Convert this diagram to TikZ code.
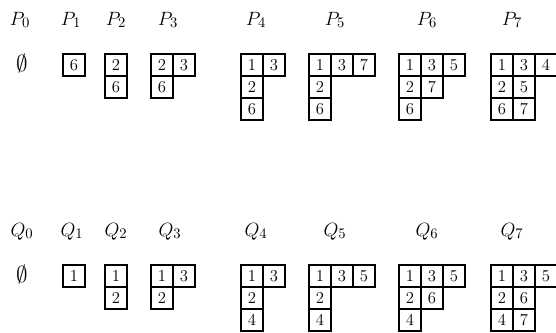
\documentclass[tikz,border=0pt]{standalone}
\begin{document}
\begin{tikzpicture}[x=0.75pt,y=-0.75pt,
  cell/.style={draw, line width=1.3pt, minimum size=16.5pt, inner sep=0pt, anchor=north west, font=\fontsize{12.5}{14}\selectfont},
  lbl/.style={anchor=base, inner sep=0pt, font=\fontsize{15}{18}\selectfont},
  empt/.style={inner sep=0pt, font=\fontsize{17}{19}\selectfont}]
\useasboundingbox (0,0) rectangle (556,332);
% ---------- labels ----------
\node[lbl] (lp0) at (20,25) {$P_0$};
\node[lbl] (lp1) at (71,25) {$P_1$};
\node[lbl] (lp2) at (116,25) {$P_2$};
\node[lbl] (lp3) at (168,25) {$P_3$};
\node[lbl] (lp4) at (256,25) {$P_4$};
\node[lbl] (lp5) at (335,25) {$P_5$};
\node[lbl] (lp6) at (427,25) {$P_6$};
\node[lbl] (lp7) at (512,25) {$P_7$};
\node[lbl] (lq0) at (22,236) {$Q_0$};
\node[lbl] (lq1) at (72,236) {$Q_1$};
\node[lbl] (lq2) at (116,236) {$Q_2$};
\node[lbl] (lq3) at (170,236) {$Q_3$};
\node[lbl] (lq4) at (256,236) {$Q_4$};
\node[lbl] (lq5) at (335,236) {$Q_5$};
\node[lbl] (lq6) at (427,236) {$Q_6$};
\node[lbl] (lq7) at (512,236) {$Q_7$};
% ---------- empty tableaux ----------
\node[empt] (p0) at (22,63) {$\emptyset$};
\node[empt] (q0) at (22,274) {$\emptyset$};
% ---------- P tableaux ----------
\node[cell] (p1a) at (62,53) {6};
\node[cell] (p2a) at (104,53) {2};
\node[cell] (p2b) at (104,75) {6};
\node[cell] (p3a) at (150,53) {2};
\node[cell] (p3b) at (172,53) {3};
\node[cell] (p3c) at (150,75) {6};
\node[cell] (p4a) at (240,53) {1};
\node[cell] (p4b) at (262,53) {3};
\node[cell] (p4c) at (240,75) {2};
\node[cell] (p4d) at (240,97) {6};
\node[cell] (p5a) at (308,53) {1};
\node[cell] (p5b) at (330,53) {3};
\node[cell] (p5c) at (352,53) {7};
\node[cell] (p5d) at (308,75) {2};
\node[cell] (p5e) at (308,97) {6};
\node[cell] (p6a) at (398,53) {1};
\node[cell] (p6b) at (420,53) {3};
\node[cell] (p6c) at (442,53) {5};
\node[cell] (p6d) at (398,75) {2};
\node[cell] (p6e) at (420,75) {7};
\node[cell] (p6f) at (398,97) {6};
\node[cell] (p7a) at (490,53) {1};
\node[cell] (p7b) at (512,53) {3};
\node[cell] (p7c) at (534,53) {4};
\node[cell] (p7d) at (490,75) {2};
\node[cell] (p7e) at (512,75) {5};
\node[cell] (p7f) at (490,97) {6};
\node[cell] (p7g) at (512,97) {7};
% ---------- Q tableaux ----------
\node[cell] (q1a) at (62,264) {1};
\node[cell] (q2a) at (104,264) {1};
\node[cell] (q2b) at (104,286) {2};
\node[cell] (q3a) at (150,264) {1};
\node[cell] (q3b) at (172,264) {3};
\node[cell] (q3c) at (150,286) {2};
\node[cell] (q4a) at (240,264) {1};
\node[cell] (q4b) at (262,264) {3};
\node[cell] (q4c) at (240,286) {2};
\node[cell] (q4d) at (240,308) {4};
\node[cell] (q5a) at (308,264) {1};
\node[cell] (q5b) at (330,264) {3};
\node[cell] (q5c) at (352,264) {5};
\node[cell] (q5d) at (308,286) {2};
\node[cell] (q5e) at (308,308) {4};
\node[cell] (q6a) at (398,264) {1};
\node[cell] (q6b) at (420,264) {3};
\node[cell] (q6c) at (442,264) {5};
\node[cell] (q6d) at (398,286) {2};
\node[cell] (q6e) at (420,286) {6};
\node[cell] (q6f) at (398,308) {4};
\node[cell] (q7a) at (490,264) {1};
\node[cell] (q7b) at (512,264) {3};
\node[cell] (q7c) at (534,264) {5};
\node[cell] (q7d) at (490,286) {2};
\node[cell] (q7e) at (512,286) {6};
\node[cell] (q7f) at (490,308) {4};
\node[cell] (q7g) at (512,308) {7};
\end{tikzpicture}
\end{document}
